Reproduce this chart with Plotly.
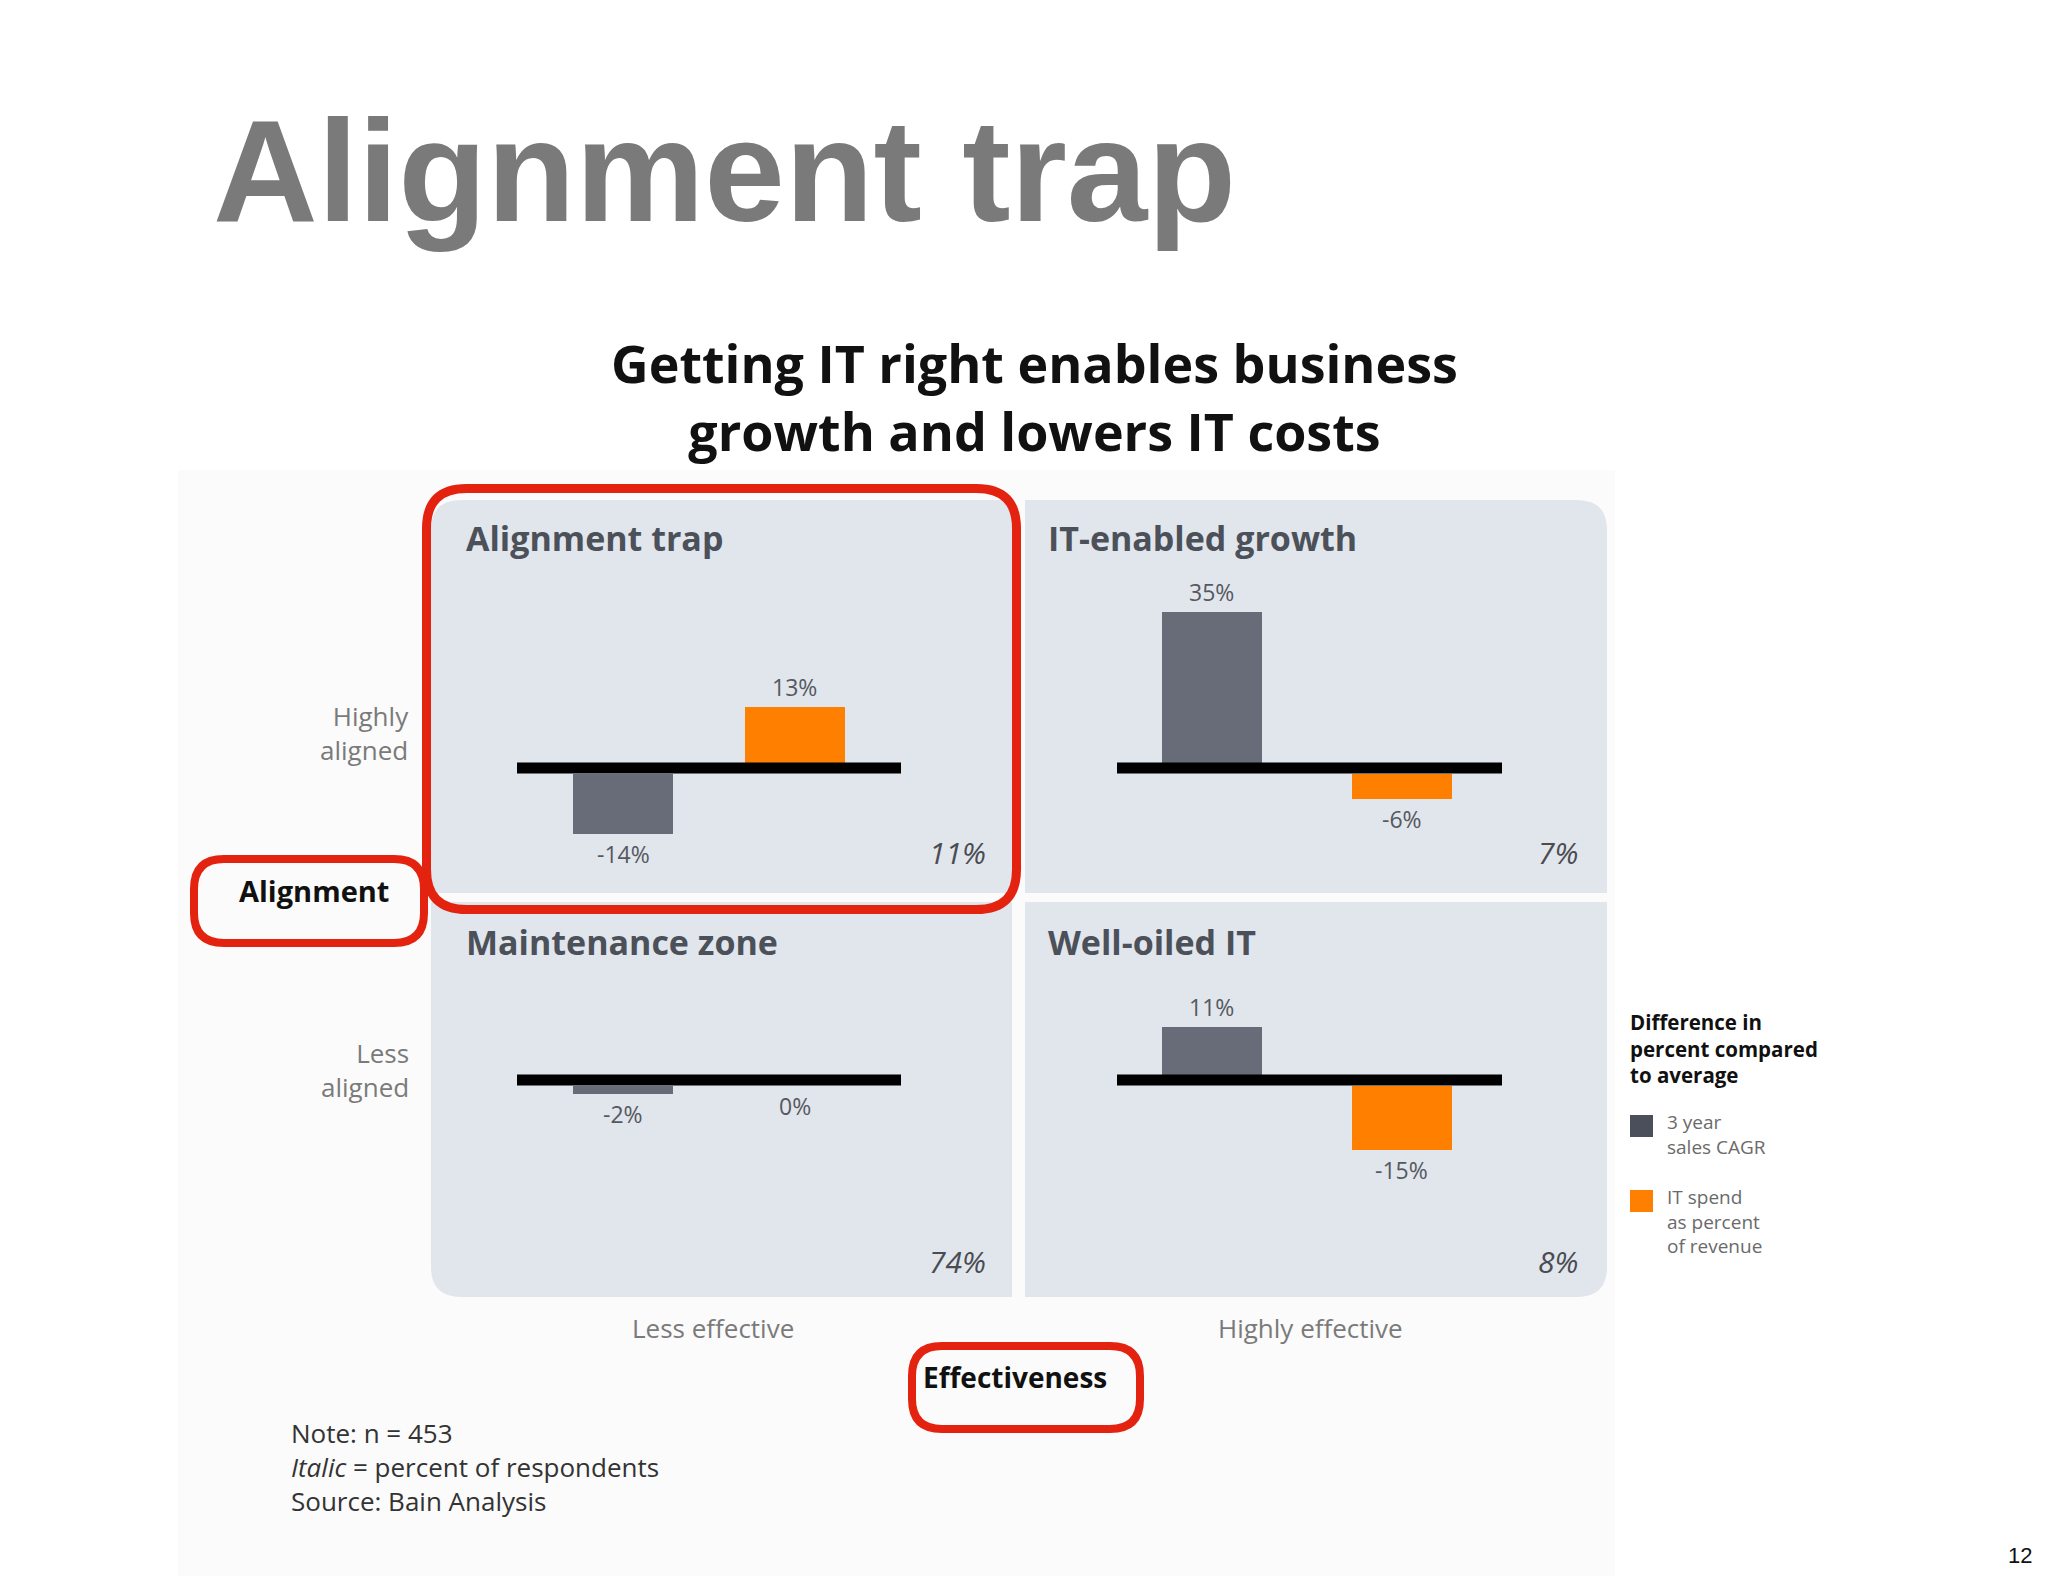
import plotly.graph_objects as go

# ---------------- data ----------------
quadrants = ["Alignment trap", "IT-enabled growth", "Maintenance zone", "Well-oiled IT"]
sales_cagr = [-14, 35, -2, 11]          # 3 year sales CAGR, difference vs average (%)
it_spend = [13, -6, 0, -15]             # IT spend as percent of revenue, difference vs average (%)
respondents = [11, 7, 74, 8]            # percent of respondents (italic)
series_names = ["3 year<br>sales CAGR", "IT spend<br>as percent<br>of revenue"]
row_labels = ["Highly<br>aligned", "Less<br>aligned"]
col_labels = ["Less effective", "Highly effective"]

# ---------------- style / layout ----------------
W, H = 2048, 1576
OFF = 8   # page body margin of the html page
FONT = "Open Sans"
GRAY_BAR = "#686C79"
ORANGE = "#FF7F00"
LEGEND_GRAY = "#4B4E5B"
PANEL_BG = "#E1E5EC"
RED = "#E3230F"
LINE_W = 11
PX_PER_UNIT = 4.3


def px(x):
    return (x - OFF) / W


def py(y):
    return 1 - (y - OFF) / H


# column geometry (pixels): baseline extent and bar centres
col_base = [(517, 901), (1117, 1502)]
col_centers = [(623, 794.5), (1211.5, 1401.5)]
BAR_PX = 100
row_zero = [768, 1080]
row_dom = [(560, 886), (958, 1290)]
panel_x = [(431, 1012), (1025, 1607)]
panel_y = [(500, 893), (902, 1297)]
title_x = [464, 1046]
title_y = [538, 942]
resp_y = [852, 1261]
resp_right = [988, 1580]


def rrect(x0, y0, x1, y1, tl=0, tr=0, br=0, bl=0):
    def P(x, y):
        return f"{px(x):.6f},{py(y):.6f}"
    s = f"M {P(x0 + tl, y0)} L {P(x1 - tr, y0)} "
    if tr:
        s += f"Q {P(x1, y0)} {P(x1, y0 + tr)} "
    s += f"L {P(x1, y1 - br)} "
    if br:
        s += f"Q {P(x1, y1)} {P(x1 - br, y1)} "
    s += f"L {P(x0 + bl, y1)} "
    if bl:
        s += f"Q {P(x0, y1)} {P(x0, y1 - bl)} "
    s += f"L {P(x0, y0 + tl)} "
    if tl:
        s += f"Q {P(x0, y0)} {P(x0 + tl, y0)} "
    return s + "Z"


fig = go.Figure()
shapes = []
annotations = []

# faint slide-image background
shapes.append(dict(type="rect", xref="paper", yref="paper", x0=px(178), x1=px(1615),
                   y0=0, y1=py(470), fillcolor="#FBFBFB", line_width=0, layer="below"))

corner = [dict(tl=30), dict(tr=30), dict(bl=30), dict(br=30)]
half_units = (LINE_W / 2) / PX_PER_UNIT

for q, name in enumerate(quadrants):
    row, col = q // 2, q % 2
    idx = "" if q == 0 else str(q + 1)
    xa, ya = "x" + idx, "y" + idx

    # panel background
    shapes.append(dict(type="path", xref="paper", yref="paper",
                       path=rrect(panel_x[col][0], panel_y[row][0], panel_x[col][1], panel_y[row][1], **corner[q]),
                       fillcolor=PANEL_BG, line_width=0, layer="below"))

    c0, c1 = col_centers[col]
    unit = c1 - c0
    b0, b1 = col_base[col]
    xr = [(b0 - c0) / unit, 1 + (b1 - c1) / unit]
    d0, d1 = row_dom[row]
    z = row_zero[row]
    yr = [-(d1 - z) / PX_PER_UNIT, (z - d0) / PX_PER_UNIT]

    vals = [sales_cagr[q], it_spend[q]]
    bases = [(half_units if v > 0 else (-half_units if v < 0 else 0)) for v in vals]
    fig.add_trace(go.Bar(x=[0, 1], y=vals, base=bases, width=BAR_PX / unit,
                         marker=dict(color=[GRAY_BAR, ORANGE], line_width=0),
                         xaxis=xa, yaxis=ya, showlegend=False, hoverinfo="skip"))

    axkw = dict(showgrid=False, zeroline=False, showticklabels=False, showline=False, fixedrange=True)
    fig.layout["xaxis" + idx] = dict(domain=[px(b0), px(b1)], range=xr, anchor=ya, **axkw)
    fig.layout["yaxis" + idx] = dict(domain=[py(d1), py(d0)], range=yr, anchor=xa, **axkw)

    # baseline
    shapes.append(dict(type="line", xref=xa + " domain", yref=ya, x0=0, x1=1, y0=0, y1=0,
                       line=dict(color="black", width=LINE_W), layer="above"))

    # value labels
    for i, v in enumerate(vals):
        up = v > 0
        annotations.append(dict(xref=xa, yref=ya, x=i, y=v + bases[i] if v != 0 else 0,
                                text=f"{v}%", showarrow=False,
                                yanchor="bottom" if up else "top",
                                yshift=2 if up else (-2 if v != 0 else -(LINE_W / 2 + 2)),
                                font=dict(family=FONT, size=23, color="#55595F")))

    # panel title
    annotations.append(dict(xref="paper", yref="paper", x=px(title_x[col]), y=py(title_y[row]),
                            xanchor="left", yanchor="middle", showarrow=False,
                            text=f"<b>{name}</b>", font=dict(family=FONT, size=34, color="#4B5059")))
    # respondents
    annotations.append(dict(xref="paper", yref="paper", x=px(resp_right[col]), y=py(resp_y[row]),
                            xanchor="right", yanchor="middle", showarrow=False,
                            text=f"<i>{respondents[q]}%</i>", font=dict(family=FONT, size=30, color="#4A4C52")))

# red highlight boxes
shapes.append(dict(type="path", xref="paper", yref="paper",
                   path=rrect(426.5, 488.5, 1016.5, 909.5, 40, 40, 40, 40),
                   line=dict(color=RED, width=9), fillcolor="rgba(0,0,0,0)", layer="above"))
shapes.append(dict(type="path", xref="paper", yref="paper",
                   path=rrect(194, 859, 424, 943, 30, 30, 30, 30),
                   line=dict(color=RED, width=8), fillcolor="rgba(0,0,0,0)", layer="above"))
shapes.append(dict(type="path", xref="paper", yref="paper",
                   path=rrect(912, 1346, 1140, 1429, 30, 30, 30, 30),
                   line=dict(color=RED, width=8), fillcolor="rgba(0,0,0,0)", layer="above"))

# legend swatches
legend_colors = [LEGEND_GRAY, ORANGE]
sw_y = [1115, 1190]
txt_y = [1134, 1221]
for k, nm in enumerate(series_names):
    shapes.append(dict(type="rect", xref="paper", yref="paper", x0=px(1630), x1=px(1653),
                       y0=py(sw_y[k] + 22), y1=py(sw_y[k]), fillcolor=legend_colors[k], line_width=0))
    annotations.append(dict(xref="paper", yref="paper", x=px(1665), y=py(txt_y[k]), xanchor="left",
                            yanchor="middle", align="left", showarrow=False, text=nm,
                            font=dict(family=FONT, size=19, color="#6A6A6A")))
annotations.append(dict(xref="paper", yref="paper", x=px(1628), y=py(1048), xanchor="left",
                        yanchor="middle", align="left", showarrow=False,
                        text="<b>Difference in<br>percent compared<br>to average</b>",
                        font=dict(family=FONT, size=20.5, color="#111111")))

# axis labels
for r, lab in enumerate(row_labels):
    annotations.append(dict(xref="paper", yref="paper", x=px(411), y=py([733, 1070][r]), xanchor="right",
                            yanchor="middle", align="right", showarrow=False, text=lab,
                            font=dict(family=FONT, size=26, color="#7A7A7A")))
for c, lab in enumerate(col_labels):
    annotations.append(dict(xref="paper", yref="paper", x=px([713, 1310][c]), y=py(1328), xanchor="center",
                            yanchor="middle", showarrow=False, text=lab,
                            font=dict(family=FONT, size=26, color="#7A7A7A")))
annotations.append(dict(xref="paper", yref="paper", x=px(314), y=py(890), xanchor="center", yanchor="middle",
                        showarrow=False, text="<b>Alignment</b>", font=dict(family=FONT, size=29, color="#111111")))
annotations.append(dict(xref="paper", yref="paper", x=px(1015), y=py(1377), xanchor="center", yanchor="middle",
                        showarrow=False, text="<b>Effectiveness</b>", font=dict(family=FONT, size=28, color="#111111")))

# titles
annotations.append(dict(xref="paper", yref="paper", x=px(211), y=py(171), xanchor="left", yanchor="middle",
                        showarrow=False, text="<b>Alignment trap</b>",
                        font=dict(family="Liberation Sans", size=145, color="#7A7A7A")))
annotations.append(dict(xref="paper", yref="paper", x=px(1034), y=py(396), xanchor="center",
                        yanchor="middle", showarrow=False, align="center",
                        text="<b>Getting IT right enables business<br>growth and lowers IT costs</b>",
                        font=dict(family=FONT, size=52, color="#111111")))

# notes
annotations.append(dict(xref="paper", yref="paper", x=px(289), y=py(1467), xanchor="left", yanchor="middle",
                        align="left", showarrow=False,
                        text="Note: n = 453<br><i>Italic</i> = percent of respondents<br>Source: Bain Analysis",
                        font=dict(family=FONT, size=26, color="#333333")))
# page number
annotations.append(dict(xref="paper", yref="paper", x=px(2020), y=py(1555), xanchor="center", yanchor="middle",
                        showarrow=False, text="12", font=dict(family="Liberation Sans", size=22, color="#111111")))

fig.update_layout(width=W, height=H, margin=dict(l=0, r=0, t=0, b=0),
                  paper_bgcolor="white", plot_bgcolor="rgba(0,0,0,0)",
                  shapes=shapes, annotations=annotations, bargap=0, showlegend=False)

fig.write_html("out.html")
